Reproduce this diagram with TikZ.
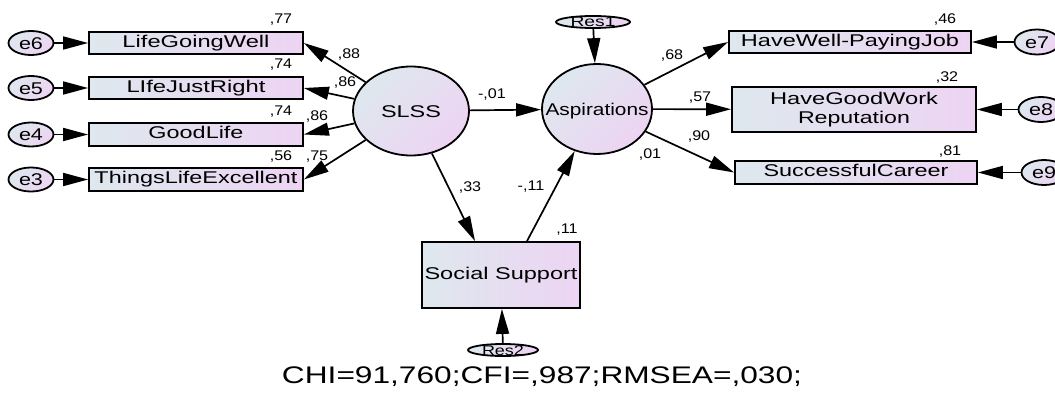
\documentclass[tikz,border=0pt]{standalone}
\usepackage{fontspec}
\setmainfont{Liberation Sans}
\usetikzlibrary{shapes.geometric,arrows.meta}
\newcommand\fw[2]{\resizebox{#1pt}{\height}{#2}}
\newcommand\nm[1]{\scalebox{1.15}[1]{#1}}
\definecolor{gL}{RGB}{222,232,238}
\definecolor{gR}{RGB}{237,212,243}
\tikzset{
  obs/.style={draw=black, line width=1.8pt, rectangle, inner sep=0pt,
    left color=gL, right color=gR, font=\fontsize{17}{18.5}\selectfont, align=center},
  one/.style={text height=12.2pt, text depth=3.6pt},
  lat/.style={draw=black, line width=1.8pt, ellipse, inner sep=0pt,
    left color=gL, right color=gR, shading angle=45},
  lt/.style={font=\fontsize{17}{17}\selectfont, inner sep=0pt, text height=12.2pt, text depth=0pt},
  rt/.style={font=\fontsize{14}{14}\selectfont, inner sep=0pt, text height=10pt, text depth=0pt},
  arr/.style={line width=1.7pt, -{Triangle[length=25pt,width=13pt]}},
  num/.style={font=\fontsize{14}{14}\selectfont, inner sep=0pt},
}
\begin{document}
\begin{tikzpicture}[x=1pt,y=-1pt]
\fill[white] (0,0) rectangle (1055,396);
\clip (0,0) rectangle (1055,396);
\useasboundingbox (0,0) rectangle (1055,396);

% error terms left
\node[lat, minimum width=45pt, minimum height=24pt, label={[lt]center:\fw{24}{e6}}] (e6) at (31,43) {};
\node[lat, minimum width=45pt, minimum height=24pt, label={[lt]center:\fw{24}{e5}}] (e5) at (31,88) {};
\node[lat, minimum width=45pt, minimum height=24pt, label={[lt]center:\fw{24}{e4}}] (e4) at (31,134.5) {};
\node[lat, minimum width=45pt, minimum height=24pt, label={[lt]center:\fw{24}{e3}}] (e3) at (31,179.5) {};

% indicators left
\node[obs, one, minimum width=214pt, minimum height=22pt] (b1) at (196,43) {\fw{147}{LifeGoingWell}};
\node[obs, one, minimum width=214pt, minimum height=22pt] (b2) at (196,88) {\fw{139}{LIfeJustRight}};
\node[obs, one, minimum width=214pt, minimum height=23pt] (b3) at (196,134.5) {\fw{95}{GoodLife}};
\node[obs, one, minimum width=214pt, minimum height=23pt] (b4) at (196,179.5) {\fw{203}{ThingsLifeExcellent}};

% latent
\node[lat, minimum width=116pt, minimum height=89pt, label={[lt]center:\fw{60}{SLSS}}] (slss) at (411,111) {};
\node[lat, minimum width=110pt, minimum height=90pt, label={[lt]center:\fw{103}{Aspirations}}] (asp) at (597,109) {};
\node[lat, minimum width=74pt, minimum height=12pt, label={[rt]center:\fw{45}{Res1}}] (r1) at (593,22) {};
\node[lat, minimum width=70pt, minimum height=12pt, label={[rt]center:\fw{42}{Res2}}] (r2) at (503,350) {};

% social support
\node[obs, one, minimum width=158pt, minimum height=66pt] (ss) at (501,275) {\fw{153}{Social Support}};

% indicators right
\node[obs, one, minimum width=242pt, minimum height=22pt] (hw) at (850,42) {\fw{218}{HaveWell-PayingJob}};
\node[obs, minimum width=244pt, minimum height=45pt] (hg) at (854,109.5) {\fw{168}{HaveGoodWork}\\\fw{112}{Reputation}};
\node[obs, one, minimum width=242pt, minimum height=23pt] (sc) at (856,172.5) {\fw{185}{SuccessfulCareer}};

% error terms right
\node[lat, minimum width=45pt, minimum height=25pt, label={[lt]center:\fw{24}{e7}}] (e7) at (1037,42) {};
\node[lat, minimum width=45pt, minimum height=25pt, label={[lt]center:\fw{24}{e8}}] (e8) at (1041,109.5) {};
\node[lat, minimum width=45pt, minimum height=25pt, label={[lt]center:\fw{24}{e9}}] (e9) at (1044,172.5) {};

% arrows
\draw[arr] (e6) -- (b1);
\draw[arr] (e5) -- (b2);
\draw[arr] (e4) -- (b3);
\draw[arr] (e3) -- (b4);
\draw[arr] (slss) -- (b1.east);
\draw[arr] (slss) -- (b2.east);
\draw[arr] (slss) -- (b3.east);
\draw[arr] (slss) -- (b4.east);
\draw[arr] (slss) -- (asp);
\draw[arr] (r1) -- (asp);
\draw[arr] (asp) -- (hw.west);
\draw[arr] (asp) -- (hg);
\draw[arr] (asp) -- (sc.west);
\draw[arr] (e7) -- (hw);
\draw[arr] (e8) -- (hg);
\draw[arr] (e9) -- (sc);
\draw[arr] (slss) -- ([xshift=-26pt]ss.north);
\draw[arr] ([xshift=26pt]ss.north) -- (asp);
\draw[arr] (r2) -- (ss);

% numbers
\node[num] (n1) at (281,20) {\nm{,77}};
\node[num] (n2) at (281,65) {\nm{,74}};
\node[num] (n3) at (281,112) {\nm{,74}};
\node[num] (n4) at (281,157) {\nm{,56}};
\node[num] (n5) at (349,55) {\nm{,88}};
\node[num] (n6) at (345,83) {\nm{,86}};
\node[num] (n7) at (317,117) {\nm{,86}};
\node[num] (n8) at (317,157) {\nm{,75}};
\node[num] (n9) at (492,95) {\nm{-,01}};
\node[num] (n10) at (672,56) {\nm{,68}};
\node[num] (n11) at (700,98) {\nm{,57}};
\node[num] (n12) at (699,137) {\nm{,90}};
\node[num] (n13) at (650,155) {\nm{,01}};
\node[num] (n14) at (470,188) {\nm{,33}};
\node[num] (n15) at (531,187) {\nm{-,11}};
\node[num] (n16) at (567,230) {\nm{,11}};
\node[num] (n17) at (945,20) {\nm{,46}};
\node[num] (n18) at (947,78) {\nm{,32}};
\node[num] (n19) at (950,152) {\nm{,81}};

\node[font=\fontsize{24}{24}\selectfont, inner sep=0pt] (fit) at (542,377) {\fw{520}{CHI=91,760;CFI=,987;RMSEA=,030;}};
\end{tikzpicture}
\end{document}
